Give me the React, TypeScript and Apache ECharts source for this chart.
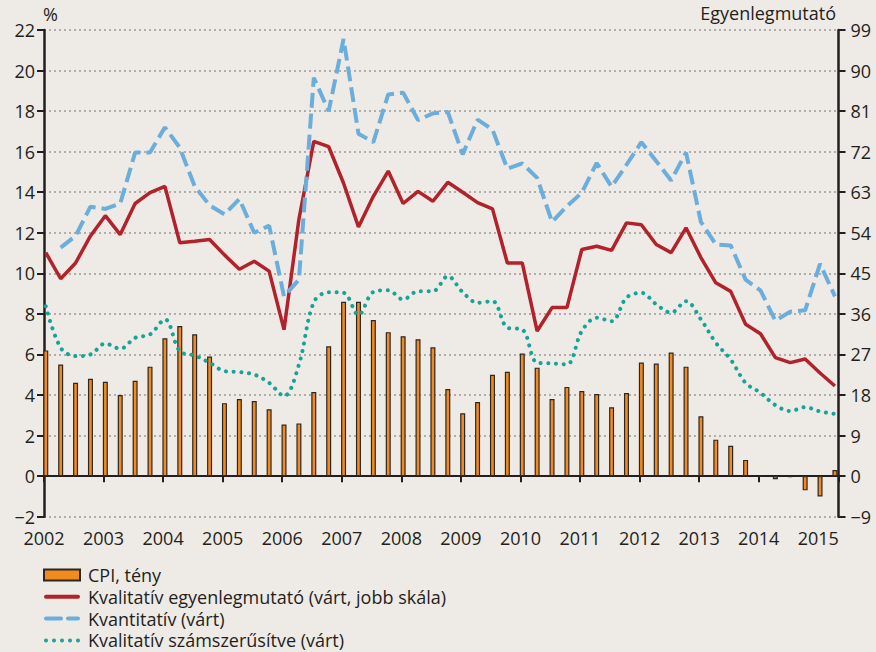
import { useEffect, useRef } from "react";
import * as echarts from "echarts";

const quarters = [
  "2002Q1", "2002Q2", "2002Q3", "2002Q4",
  "2003Q1", "2003Q2", "2003Q3", "2003Q4",
  "2004Q1", "2004Q2", "2004Q3", "2004Q4",
  "2005Q1", "2005Q2", "2005Q3", "2005Q4",
  "2006Q1", "2006Q2", "2006Q3", "2006Q4",
  "2007Q1", "2007Q2", "2007Q3", "2007Q4",
  "2008Q1", "2008Q2", "2008Q3", "2008Q4",
  "2009Q1", "2009Q2", "2009Q3", "2009Q4",
  "2010Q1", "2010Q2", "2010Q3", "2010Q4",
  "2011Q1", "2011Q2", "2011Q3", "2011Q4",
  "2012Q1", "2012Q2", "2012Q3", "2012Q4",
  "2013Q1", "2013Q2", "2013Q3", "2013Q4",
  "2014Q1", "2014Q2", "2014Q3", "2014Q4",
  "2015Q1", "2015Q2",
];

// CPI, tény (%, left scale)
const cpiActual = [
  6.2, 5.5, 4.6, 4.8,
  4.65, 4.0, 4.7, 5.4,
  6.8, 7.4, 7.0, 5.9,
  3.6, 3.8, 3.7, 3.3,
  2.55, 2.6, 4.15, 6.4,
  8.6, 8.6, 7.7, 7.1,
  6.9, 6.75, 6.35, 4.3,
  3.1, 3.65, 5.0, 5.15,
  6.05, 5.35, 3.8, 4.4,
  4.2, 4.05, 3.4, 4.1,
  5.6, 5.55, 6.1, 5.4,
  2.95, 1.8, 1.5, 0.8,
  0.0, -0.15, -0.05, -0.7,
  -1.0, 0.3,
];

// Kvalitatív egyenlegmutató (right scale)
const qualBalance = [
  49.6, 43.8, 47.3, 53.3,
  57.8, 53.6, 60.5, 62.9,
  64.3, 51.8, 52.1, 52.5,
  49.1, 45.9, 47.7, 45.5,
  32.5, 57.0, 74.3, 73.1,
  65.0, 55.3, 62.1, 67.7,
  60.5, 63.2, 61.0, 65.2,
  63.0, 60.7, 59.3, 47.3,
  47.3, 32.2, 37.4, 37.4,
  50.3, 51.0, 50.1, 56.2,
  55.8, 51.4, 49.6, 55.1,
  48.5, 42.9, 41.0, 33.7,
  31.6, 26.3, 25.2, 26.0,
  22.9, 20.0,
];

// Kvantitatív (várt) (right scale)
const quantExpected = [
  null, 50.7, 53.3, 59.8,
  59.3, 60.5, 71.8, 71.8,
  77.4, 72.9, 64.3, 60.1,
  58.1, 61.5, 54.0, 55.6,
  39.9, 43.6, 88.4, 81.0,
  97.0, 76.0, 74.1, 84.7,
  85.1, 79.0, 80.5, 80.8,
  71.4, 79.1, 76.9, 68.2,
  69.4, 66.2, 56.4, 59.9,
  62.9, 69.5, 64.2, 69.1,
  74.1, 69.9, 65.6, 71.8,
  56.4, 51.4, 51.2, 43.6,
  41.2, 34.5, 36.5, 36.8,
  47.1, 39.9,
];

// Kvalitatív számszerűsítve (várt) (%, left scale)
const qualQuantified = [
  8.38, 6.33, 5.92, 6.0,
  6.54, 6.28, 6.82, 6.99,
  7.73, 6.16, 5.95, 5.59,
  5.18, 5.13, 5.01, 4.6,
  3.95, 5.5, 8.58, 9.07,
  9.04, 7.95, 9.08, 9.17,
  8.71, 9.12, 9.12, 9.86,
  9.07, 8.55, 8.63, 7.32,
  7.23, 5.59, 5.56, 5.51,
  7.15, 7.81, 7.64, 8.8,
  9.04, 8.47, 8.06, 8.63,
  7.73, 6.58, 5.75, 4.6,
  4.11, 3.5, 3.21, 3.4,
  3.19, 3.07,
];

const leftTicks = { min: -2, max: 22, step: 2 };
const rightTicks = { min: -9, max: 99, step: 9 };
const yearRange = { min: 2002, max: 2015.34 };

const names = {
  cpi: "CPI, tény",
  qual: "Kvalitatív egyenlegmutató (várt, jobb skála)",
  quant: "Kvantitatív (várt)",
  qualNum: "Kvalitatív számszerűsítve (várt)",
};

const FONT = "'Open Sans', 'Noto Sans', sans-serif";
const FS = 18;
const TEXT = "#231F20";
const RED = "#B2222A";
const BLUE = "#6BAEDB";
const TEAL = "#17A398";

const seg = (x: number, len: number) =>
  `M${x + 2},0h${len - 4}a2,2 0 0 1 0,4h${-(len - 4)}a2,2 0 0 1 0,-4z`;
const dot = (cx: number) => `M${cx - 2},2a2,2 0 1 0 4,0a2,2 0 1 0 -4,0z`;
const iconSolid = "path://" + seg(0, 36);
const iconDashed = "path://" + seg(0, 19) + " " + seg(22, 14);
const iconDotted = "path://" + [2, 10, 18, 26, 34].map(dot).join(" ");

function qPos(label: string): number {
  const y = parseInt(label.slice(0, 4), 10);
  const q = parseInt(label.slice(5), 10);
  return y + (q - 1) / 4 + 0.03;
}

function pairs(values: (number | null)[]) {
  return quarters.map((q, i) => [qPos(q), values[i]]);
}

const minus = (v: number) => String(v).replace("-", "\u2212");

export default function App() {
  const ref = useRef<HTMLDivElement>(null);

  useEffect(() => {
    if (!ref.current) return;
    const chart = echarts.init(ref.current, undefined, { renderer: "svg" });
    chart.setOption({
      animation: false,
      backgroundColor: "#EEEAE6",
      textStyle: { fontFamily: FONT, color: TEXT },
      grid: { left: 44, right: 37.5, top: 30, bottom: 135.3, containLabel: false },
      graphic: [
        {
          type: "text",
          left: 43,
          top: 5,
          style: { text: "%", font: `${FS}px ${FONT}`, fill: TEXT },
        },
        {
          type: "text",
          right: 40,
          top: 4,
          style: { text: "Egyenlegmutató", font: `${FS}px ${FONT}`, fill: TEXT },
        },
      ],
      legend: {
        orient: "vertical",
        left: 43,
        top: 566,
        height: 90,
        padding: 0,
        itemWidth: 36,
        itemHeight: 11,
        itemGap: 3.8,
        textStyle: { fontFamily: FONT, fontSize: FS, lineHeight: 18, color: TEXT, padding: [0, 0, 0, 3] },
        data: [
          { name: names.cpi, icon: "rect" },
          { name: names.qual, icon: iconSolid, itemStyle: { color: RED, borderWidth: 0 } },
          { name: names.quant, icon: iconDashed, itemStyle: { color: BLUE, borderWidth: 0 } },
          { name: names.qualNum, icon: iconDotted, itemStyle: { color: TEAL, borderWidth: 0 } },
        ],
      },
      xAxis: [
        {
          type: "value",
          min: yearRange.min,
          max: yearRange.max,
          interval: 1,
          position: "bottom",
          axisLine: { show: false, onZero: false },
          axisTick: { show: false },
          splitLine: { show: false },
          axisLabel: {
            fontSize: FS,
            color: TEXT,
            fontFamily: FONT,
            margin: 12,
            showMaxLabel: false,
            formatter: (v: number) => (Number.isInteger(v) ? String(v) : ""),
          },
        },
        {
          type: "value",
          min: yearRange.min,
          max: yearRange.max,
          interval: 1,
          position: "top",
          axisLine: { show: true, onZero: true, onZeroAxisIndex: 0, lineStyle: { color: TEXT, width: 2 } },
          axisTick: { show: true, inside: true, length: 6, lineStyle: { color: TEXT, width: 2 } },
          axisLabel: { show: false },
          splitLine: { show: false },
        },
      ],
      yAxis: [
        {
          type: "value",
          position: "left",
          min: leftTicks.min,
          max: leftTicks.max,
          interval: leftTicks.step,
          axisLine: { show: true, onZero: false, lineStyle: { color: TEXT, width: 2.5 } },
          axisTick: { show: true, length: 7, lineStyle: { color: TEXT, width: 2 } },
          axisLabel: { fontSize: FS, color: TEXT, fontFamily: FONT, margin: 9, formatter: minus },
          splitLine: { show: true, lineStyle: { color: "#9C9A98", width: 1.5, type: [2, 3] } },
        },
        {
          type: "value",
          position: "right",
          min: rightTicks.min,
          max: rightTicks.max,
          interval: rightTicks.step,
          axisLine: { show: true, onZero: false, lineStyle: { color: TEXT, width: 2.5 } },
          axisTick: { show: true, length: 7, lineStyle: { color: TEXT, width: 2 } },
          axisLabel: { fontSize: FS, color: TEXT, fontFamily: FONT, margin: 12, formatter: minus },
          splitLine: { show: false },
        },
      ],
      series: [
        {
          name: names.cpi,
          type: "bar",
          xAxisIndex: 0,
          yAxisIndex: 0,
          barWidth: 5,
          data: pairs(cpiActual),
          itemStyle: { color: "#F28A1E", borderColor: "#2B2725", borderWidth: 1.2 },
          z: 2,
        },
        {
          name: names.qual,
          type: "line",
          xAxisIndex: 0,
          yAxisIndex: 1,
          data: pairs(qualBalance),
          symbol: "none",
          lineStyle: { color: RED, width: 3.5 },
          itemStyle: { color: RED },
          z: 3,
        },
        {
          name: names.quant,
          type: "line",
          xAxisIndex: 0,
          yAxisIndex: 1,
          data: pairs(quantExpected),
          symbol: "none",
          connectNulls: false,
          lineStyle: { color: BLUE, width: 4, type: [15, 6] },
          itemStyle: { color: BLUE },
          z: 3,
        },
        {
          name: names.qualNum,
          type: "line",
          xAxisIndex: 0,
          yAxisIndex: 0,
          data: pairs(qualQuantified),
          symbol: "none",
          smooth: 0.35,
          lineStyle: { color: TEAL, width: 4, type: [0.1, 7.6], cap: "round" },
          itemStyle: { color: TEAL },
          z: 3,
        },
      ],
    });
    return () => chart.dispose();
  }, []);

  return (
    <div
      ref={ref}
      style={{ position: "absolute", left: 0, top: 0, width: 876, height: 652 }}
    />
  );
}
